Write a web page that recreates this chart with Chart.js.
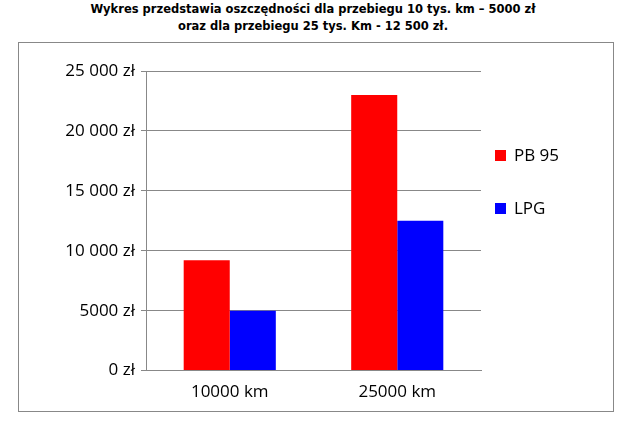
<!DOCTYPE html>
<html><head><meta charset="utf-8">
<script src="https://cdn.jsdelivr.net/npm/chart.js@4.4.2/dist/chart.umd.min.js"></script>
<style>
body{margin:0;background:#fff;width:626px;height:423px;position:relative;overflow:hidden}
#title{position:absolute;left:0;top:1px;width:626px;text-align:center;font:bold 11.5px "DejaVu Sans",sans-serif;line-height:17px;color:#000}
#box{position:absolute;left:18px;top:42px;width:594px;height:368px;border:1px solid #888}
#legend{position:absolute;left:495px;top:143px;font:17px "Open Sans",sans-serif;color:#000}
#legend div{height:53px;display:flex;align-items:flex-start}
#legend span.sw{display:inline-block;width:11px;height:11px;margin:7px 8px 0 0}
</style></head><body>
<div id="title">Wykres przedstawia oszczędności dla przebiegu 10 tys. km – 5000 zł<br>oraz dla przebiegu 25 tys. Km - 12 500 zł.</div>
<div id="box"><canvas id="c" width="594" height="368"></canvas></div>
<div id="legend"><div><span class="sw" style="background:#ff0000"></span>PB 95</div><div><span class="sw" style="background:#0000ff"></span>LPG</div></div>
<script>
const categories = ['10000 km', '25000 km'];
const pb95 = [9200, 23000];
const lpg = [5000, 12500];

const fmt = v => v === 0 ? '0 zł' : v.toLocaleString('pl-PL').replace(/\s/g, ' ') + ' zł';

new Chart(document.getElementById('c'), {
  type: 'bar',
  data: {
    labels: categories,
    datasets: [
      { label: 'PB 95', data: pb95, backgroundColor: '#ff0000' },
      { label: 'LPG', data: lpg, backgroundColor: '#0000ff' }
    ]
  },
  options: {
    responsive: false,
    animation: false,
    categoryPercentage: 0.55,
    barPercentage: 1.0,
    layout: { padding: { left: 0, right: 132, top: 28, bottom: 6 } },
    plugins: { legend: { display: false }, tooltip: { enabled: false } },
    scales: {
      x: {
        grid: { display: false },
        border: { color: '#888' },
        ticks: { color: '#000', font: { family: 'Open Sans', size: 17 } }
      },
      y: {
        min: 0, max: 25000,
        afterFit: s => { s.width = 127; },
        grid: { color: '#888', drawTicks: true, tickLength: 5 },
        border: { color: '#888' },
        ticks: { stepSize: 5000, color: '#000', padding: 6, font: { family: 'Open Sans', size: 17 },
          callback: v => fmt(v) }
      }
    }
  }
});
</script>
</body></html>
